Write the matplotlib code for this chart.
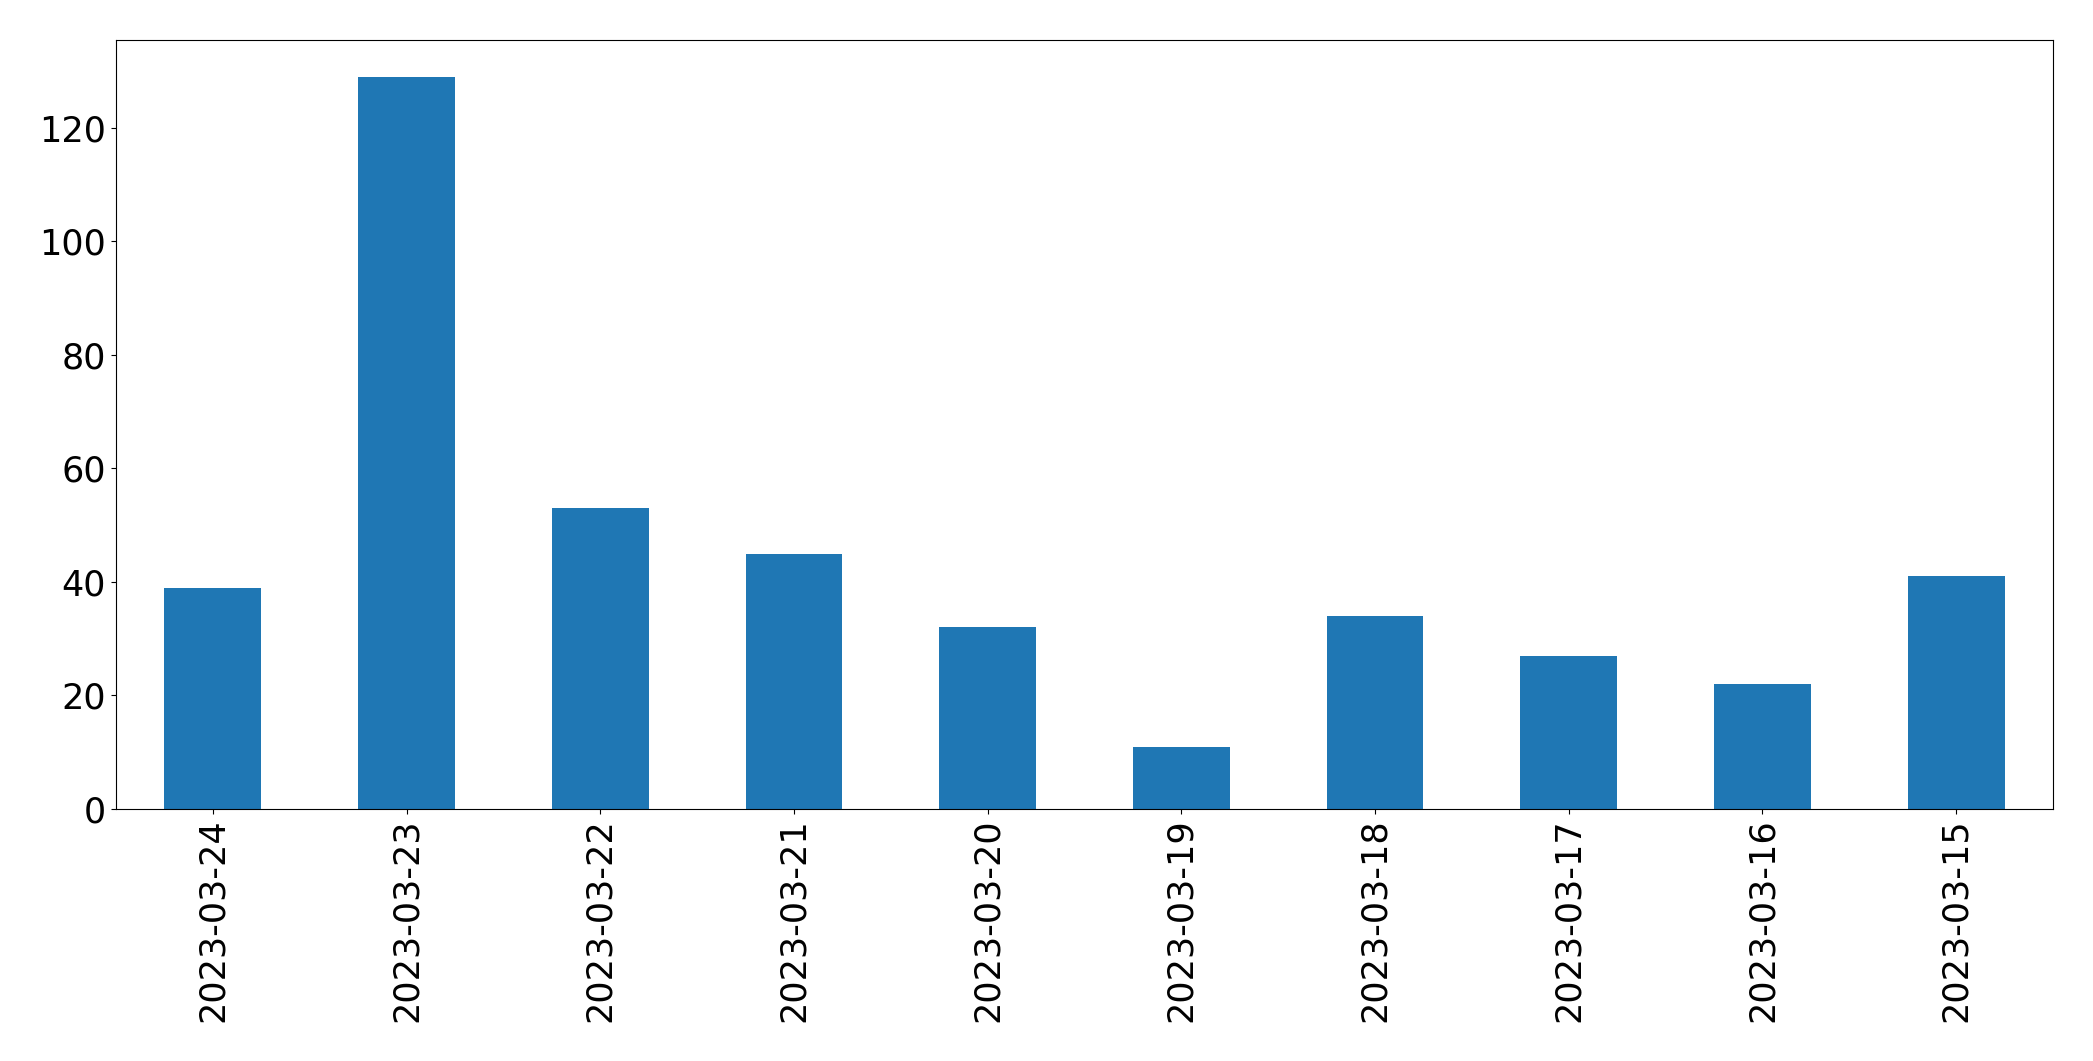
import matplotlib
matplotlib.use("Agg")
import matplotlib.pyplot as plt
import pandas as pd

dates = ["2023-03-24", "2023-03-23", "2023-03-22", "2023-03-21", "2023-03-20",
         "2023-03-19", "2023-03-18", "2023-03-17", "2023-03-16", "2023-03-15"]
counts = [39, 129, 53, 45, 32, 11, 34, 27, 22, 41]

series = pd.Series(counts, index=dates)

fig = plt.figure(figsize=(20.93, 10.61), dpi=100)
ax = fig.add_axes([0.0554, 0.2375, 0.9255, 0.7248])
series.plot(kind="bar", ax=ax, color="#1f77b4")
ax.tick_params(axis="both", labelsize=25.2)

fig.savefig("out.png", dpi=100)
